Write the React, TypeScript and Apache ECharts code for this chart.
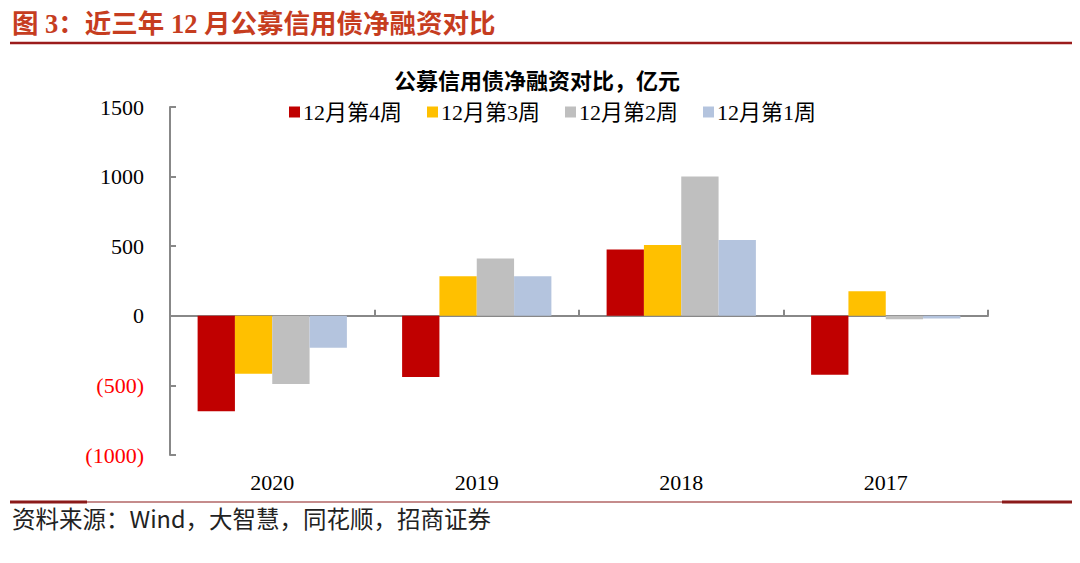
import React, { useEffect, useRef } from "react";
import * as echarts from "echarts";

const categories = ["2020", "2019", "2018", "2017"];
const week4 = [-685, -440, 476, -424];
const week3 = [-417, 285, 508, 177];
const week2 = [-490, 411, 1000, -25];
const week1 = [-230, 285, 544, -19];
const seriesNames = ["12月第4周", "12月第3周", "12月第2周", "12月第1周"];
const colors = ["#C00000", "#FFC000", "#BFBFBF", "#B4C4DE"];

const SERIF = "'Liberation Serif', 'Times New Roman', 'Noto Sans CJK SC', serif";

export default function App() {
  const ref = useRef<HTMLDivElement>(null);
  useEffect(() => {
    const chart = echarts.init(ref.current!, null, { renderer: "svg" });
    const data = [week4, week3, week2, week1];
    chart.setOption({
      animation: false,
      backgroundColor: "#fff",
      graphic: [
        {
          type: "text",
          left: 12,
          top: 11,
          style: {
            text: "图 3：近三年 12 月公募信用债净融资对比",
            fontFamily: SERIF,
            fontWeight: "bold",
            fontSize: 26.5,
            fill: "#C63D1F",
          },
        },
        {
          type: "line",
          shape: { x1: 10, y1: 43, x2: 1072, y2: 43 },
          style: { stroke: "#9B1B1B", lineWidth: 2.5 },
        },
        {
          type: "text",
          left: 394,
          top: 68,
          style: {
            text: "公募信用债净融资对比，亿元",
            fontFamily: "'Noto Sans CJK SC', sans-serif",
            fontWeight: "bold",
            fontSize: 22,
            fill: "#000",
          },
        },
        {
          type: "line",
          shape: { x1: 10, y1: 502, x2: 1072, y2: 502 },
          style: { stroke: "#8B1A1A", lineWidth: 1.2 },
        },
        {
          type: "line",
          shape: { x1: 10, y1: 502, x2: 87, y2: 502 },
          style: { stroke: "#8B1A1A", lineWidth: 3 },
        },
        {
          type: "line",
          shape: { x1: 1002, y1: 502, x2: 1072, y2: 502 },
          style: { stroke: "#8B1A1A", lineWidth: 3 },
        },
        {
          type: "text",
          left: 12,
          top: 506,
          style: {
            text: "资料来源：Wind，大智慧，同花顺，招商证券",
            fontFamily: "'Noto Sans CJK SC', sans-serif",
            fontSize: 23.5,
            fill: "#222",
          },
        },
      ],
      legend: {
        left: 284,
        top: 96,
        itemWidth: 11,
        itemHeight: 11,
        itemGap: 25,
        icon: "rect",
        textStyle: { fontFamily: SERIF, fontSize: 22, color: "#000", padding: [0, 0, 0, -2] },
        data: seriesNames,
      },
      grid: { left: 170, right: 92, top: 107, bottom: 108 },
      xAxis: [
        {
          type: "category",
          data: categories,
          axisLine: { onZero: true, lineStyle: { color: "#888", width: 2 } },
          axisTick: { show: true, inside: true, length: 6, lineStyle: { color: "#888", width: 2 } },
          axisLabel: { show: false },
        },
        {
          type: "category",
          data: categories,
          position: "bottom",
          axisLine: { show: false, onZero: false },
          axisTick: { show: false },
          axisLabel: { margin: 16, fontFamily: SERIF, fontSize: 22, color: "#000" },
        },
      ],
      yAxis: {
        type: "value",
        min: -1000,
        max: 1500,
        interval: 500,
        splitLine: { show: false },
        axisLine: { show: true, lineStyle: { color: "#888", width: 2 } },
        axisTick: { show: true, inside: true, length: 6, lineStyle: { color: "#888", width: 2 } },
        axisLabel: {
          margin: 26,
          fontFamily: SERIF,
          fontSize: 22,
          formatter: (v: number) => (v < 0 ? `(${-v})` : `${v}`),
          color: (v: any) => (Number(v) < 0 ? "#FF0000" : "#000"),
        },
      },
      series: data.map((d, i) => ({
        name: seriesNames[i],
        type: "bar",
        xAxisIndex: 0,
        data: d,
        barGap: "0%",
        barCategoryGap: "27%",
        itemStyle: { color: colors[i] },
      })),
    });
    return () => chart.dispose();
  }, []);
  return <div ref={ref} style={{ width: 1080, height: 563, marginLeft: -8, marginTop: -8 }} />;
}
